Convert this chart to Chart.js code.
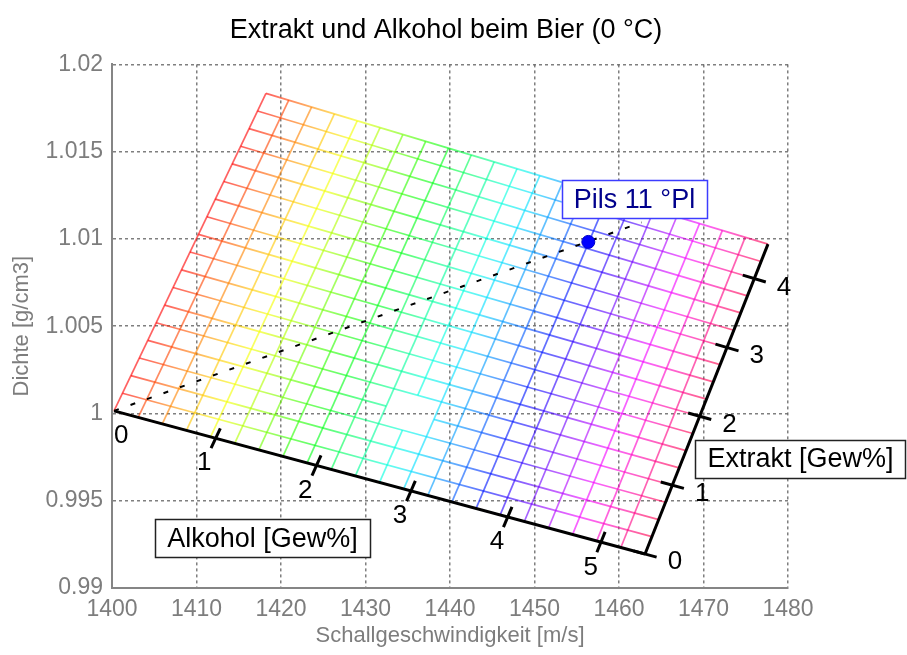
<!DOCTYPE html>
<html>
<head>
<meta charset="utf-8">
<script src="https://cdn.jsdelivr.net/npm/chart.js@4.4.0/dist/chart.umd.min.js"></script>
<style>
  html, body { margin: 0; padding: 0; background: #fff; }
  canvas { display: block; }
</style>
</head>
<body>
<canvas id="chart" width="907" height="655"></canvas>
<script>
// Grid levels of the nomogram (Gew%)
const alcoholLevels = [0, 0.25, 0.5, 0.75, 1, 1.25, 1.5, 1.75, 2, 2.25, 2.5, 2.75, 3, 3.25, 3.5, 3.75, 4, 4.25, 4.5, 4.75, 5, 5.25, 5.5];
const extractLevels = [0, 0.25, 0.5, 0.75, 1, 1.25, 1.5, 1.75, 2, 2.25, 2.5, 2.75, 3, 3.25, 3.5, 3.75, 4, 4.25, 4.5];

// Mesh edge at extract 0 (one node per alcohol level): sound speed [m/s], density [g/cm3]
const bottomSpeed = [1400.24, 1403.10, 1405.95, 1408.81, 1411.67, 1414.52, 1417.38, 1420.23, 1423.09, 1425.95, 1428.80, 1431.66, 1434.52, 1437.37, 1440.23, 1443.09, 1445.94, 1448.80, 1451.66, 1454.51, 1457.37, 1460.22, 1463.08];
const bottomDensity = [1.00015, 0.99978, 0.99940, 0.99903, 0.99866, 0.99829, 0.99791, 0.99754, 0.99717, 0.99680, 0.99642, 0.99605, 0.99568, 0.99530, 0.99493, 0.99456, 0.99419, 0.99381, 0.99344, 0.99307, 0.99270, 0.99232, 0.99195];
// Mesh edge at extract 4.5
const topSpeed = [1418.22, 1420.92, 1423.62, 1426.32, 1429.02, 1431.72, 1434.42, 1437.12, 1439.82, 1442.52, 1445.23, 1447.93, 1450.63, 1453.33, 1456.03, 1458.73, 1461.43, 1464.13, 1466.83, 1469.53, 1472.23, 1474.93, 1477.63];
const topDensity = [1.01834, 1.01795, 1.01755, 1.01716, 1.01677, 1.01638, 1.01598, 1.01559, 1.01520, 1.01481, 1.01441, 1.01402, 1.01363, 1.01323, 1.01284, 1.01245, 1.01206, 1.01166, 1.01127, 1.01088, 1.01049, 1.01009, 1.00970];
// Mesh edge at alcohol 0 (one node per extract level)
const leftSpeed = [1400.24, 1401.24, 1402.24, 1403.24, 1404.24, 1405.23, 1406.23, 1407.23, 1408.23, 1409.23, 1410.23, 1411.23, 1412.23, 1413.23, 1414.22, 1415.22, 1416.22, 1417.22, 1418.22];
const leftDensity = [1.00015, 1.00116, 1.00217, 1.00318, 1.00419, 1.00520, 1.00621, 1.00722, 1.00823, 1.00925, 1.01026, 1.01127, 1.01228, 1.01329, 1.01430, 1.01531, 1.01632, 1.01733, 1.01834];
// Mesh edge at alcohol 5.5
const rightSpeed = [1463.08, 1463.89, 1464.70, 1465.50, 1466.31, 1467.12, 1467.93, 1468.74, 1469.55, 1470.36, 1471.16, 1471.97, 1472.78, 1473.59, 1474.40, 1475.20, 1476.01, 1476.82, 1477.63];
const rightDensity = [0.99195, 0.99294, 0.99392, 0.99491, 0.99589, 0.99688, 0.99787, 0.99885, 0.99984, 1.00082, 1.00181, 1.00280, 1.00378, 1.00477, 1.00576, 1.00674, 1.00773, 1.00871, 1.00970];
// Grid nodes without a value: [alcohol index, extract index]
const missingNodes = [[11, 4]];

// Alcohol scale (along extract 0): labelled values and where they sit
const alcoholTicks = [0, 1, 2, 3, 4, 5];
const alcoholTickSpeed = [1400.24, 1412.27, 1424.20, 1435.38, 1446.83, 1457.87];
const alcoholTickDensity = [1.00015, 0.99858, 0.99702, 0.99556, 0.99407, 0.99263];
// Extract scale (along alcohol 5.5): labelled values, on mesh rows
const extractTicks = [0, 1, 2, 3, 4];

// Dilution line through the beer sample, and the sample itself
const dilutionSpeed = [1400.24, 1462.69];
const dilutionDensity = [1.00015, 1.01095];
const pilsSpeed = [1456.37];
const pilsDensity = [1.00983];

// Cartesian axes
const speedTicks = [1400, 1410, 1420, 1430, 1440, 1450, 1460, 1470, 1480];
const speedTickLabels = ['1400', '1410', '1420', '1430', '1440', '1450', '1460', '1470', '1480'];
const densityTicks = [0.99, 0.995, 1, 1.005, 1.01, 1.015, 1.02];
const densityTickLabels = ['0.99', '0.995', '1', '1.005', '1.01', '1.015', '1.02'];

const SANS = '"Liberation Sans", Arial, Helvetica, sans-serif';
const GREY = '#7d7d7d';

// hsv-like colour for a column of the mesh
function hueColor(i) {
  const h = 360 * i / alcoholLevels.length;
  return `hsla(${h.toFixed(1)}, 100%, 50%, 0.62)`;
}

const pt = (x, y) => ({ x, y });
const bottomNode = i => pt(bottomSpeed[i], bottomDensity[i]);
const topNode = i => pt(topSpeed[i], topDensity[i]);
const leftNode = j => pt(leftSpeed[j], leftDensity[j]);
const rightNode = j => pt(rightSpeed[j], rightDensity[j]);

// crossing of column i and row j of the mesh (both are straight lines)
function meshNode(i, j) {
  const lastRow = extractLevels.length - 1, lastCol = alcoholLevels.length - 1;
  if (j === 0) return bottomNode(i);
  if (j === lastRow) return topNode(i);
  if (i === 0) return leftNode(j);
  if (i === lastCol) return rightNode(j);
  const p = bottomNode(i), r = topNode(i), q = leftNode(j), s = rightNode(j);
  const k = 1000; // bring density to a comparable magnitude
  const rx = r.x - p.x, ry = (r.y - p.y) * k;
  const sx = s.x - q.x, sy = (s.y - q.y) * k;
  const qx = q.x - p.x, qy = (q.y - p.y) * k;
  const t = (qx * sy - qy * sx) / (rx * sy - ry * sx);
  return pt(p.x + t * (r.x - p.x), p.y + t * (r.y - p.y));
}

// split an index range 0..last into runs that avoid the missing nodes
function runs(last, gaps) {
  const out = [];
  let start = 0;
  gaps.slice().sort((a, b) => a - b).forEach(g => {
    if (g - 1 > start) out.push([start, g - 1]);
    start = g + 1;
  });
  if (last > start) out.push([start, last]);
  return out;
}

function rowGradient(chart, j) {
  const xs = chart.scales.x, ys = chart.scales.y;
  const a = leftNode(j), b = rightNode(j);
  const g = chart.ctx.createLinearGradient(
    xs.getPixelForValue(a.x), ys.getPixelForValue(a.y),
    xs.getPixelForValue(b.x), ys.getPixelForValue(b.y));
  const n = alcoholLevels.length;
  for (let i = 0; i < n; i++) g.addColorStop(i / (n - 1), hueColor(i));
  return g;
}

const meshLine = { showLine: true, pointRadius: 0, borderWidth: 1.7, fill: false, order: 3 };
const datasets = [];

// sample point
datasets.push({
  label: 'Pils 11 °Pl',
  data: pilsSpeed.map((s, k) => pt(s, pilsDensity[k])),
  showLine: false, pointRadius: 6.5, pointBackgroundColor: '#0000ff',
  pointBorderColor: '#0000c8', pointBorderWidth: 1, order: 0
});
// dilution line
datasets.push({
  label: 'Verdünnung',
  data: dilutionSpeed.map((s, k) => pt(s, dilutionDensity[k])),
  showLine: true, pointRadius: 0, borderColor: '#000', borderWidth: 2,
  borderDash: [5, 12.5], order: 1
});
// the two skew axes
const lastCol = alcoholLevels.length - 1, lastRow = extractLevels.length - 1;
datasets.push({
  label: 'Alkohol', data: [bottomNode(0), bottomNode(lastCol)],
  showLine: true, pointRadius: 0, borderColor: '#000', borderWidth: 3, order: 2
});
datasets.push({
  label: 'Extrakt', data: [rightNode(0), rightNode(lastRow)],
  showLine: true, pointRadius: 0, borderColor: '#000', borderWidth: 3, order: 2
});

// rows: constant extract, coloured along the alcohol direction
extractLevels.forEach((e, j) => {
  const gaps = missingNodes.filter(m => m[1] === j).map(m => m[0]);
  runs(lastCol, gaps).forEach(([i0, i1]) => {
    datasets.push(Object.assign({}, meshLine, {
      label: 'Extrakt ' + e,
      data: [meshNode(i0, j), meshNode(i1, j)],
      borderColor: ctx => ctx.chart.chartArea ? rowGradient(ctx.chart, j) : 'rgba(0,0,0,0)'
    }));
  });
});
// columns: constant alcohol
alcoholLevels.forEach((a, i) => {
  const gaps = missingNodes.filter(m => m[0] === i).map(m => m[1]);
  runs(lastRow, gaps).forEach(([j0, j1]) => {
    datasets.push(Object.assign({}, meshLine, {
      label: 'Alkohol ' + a,
      data: [meshNode(i, j0), meshNode(i, j1)],
      borderColor: hueColor(i)
    }));
  });
});

// text boxes placed in data coordinates
const boxes = [
  { text: 'Pils 11 °Pl', x: 1461.83, y: 1.01227, color: '#00008c', border: '#3c3cff' },
  { text: 'Alkohol [Gew%]', x: 1417.81, y: 0.99286, color: '#000', border: '#222' },
  { text: 'Extrakt [Gew%]', x: 1481.48, y: 0.99741, color: '#000', border: '#222' }
];

function seg(ctx, a, b) {
  ctx.beginPath(); ctx.moveTo(a.x, a.y); ctx.lineTo(b.x, b.y); ctx.stroke();
}

// ticks and numbers of the skew scales, plus the framed captions
const nomogramLabels = {
  id: 'nomogramLabels',
  afterDatasetsDraw(chart) {
    const { ctx, scales: { x: xs, y: ys } } = chart;
    const toPx = p => pt(xs.getPixelForValue(p.x), ys.getPixelForValue(p.y));
    const dir = (a, b) => { const dx = b.x - a.x, dy = b.y - a.y, l = Math.hypot(dx, dy); return pt(dx / l, dy / l); };
    ctx.save();
    ctx.strokeStyle = '#000';
    ctx.fillStyle = '#000';
    ctx.lineWidth = 3;
    ctx.font = '26px ' + SANS;
    ctx.textAlign = 'center';
    ctx.textBaseline = 'middle';

    alcoholTicks.forEach((t, k) => {
      const p = toPx(pt(alcoholTickSpeed[k], alcoholTickDensity[k]));
      // tick direction follows the nearest mesh column
      let i = 0;
      bottomSpeed.forEach((s, n) => { if (Math.abs(s - alcoholTickSpeed[k]) < Math.abs(bottomSpeed[i] - alcoholTickSpeed[k])) i = n; });
      const u = dir(toPx(bottomNode(i)), toPx(topNode(i)));
      if (t > 0) seg(ctx, pt(p.x - u.x * 11, p.y - u.y * 11), pt(p.x + u.x * 11, p.y + u.y * 11));
      // the zero sits a little further in to stay clear of the y axis
      const shift = t === 0 ? 19 : 0;
      ctx.fillText(String(t), p.x - u.x * 27.5 + shift, p.y - u.y * 27.5);
    });

    extractTicks.forEach(t => {
      const j = extractLevels.indexOf(t);
      const p = toPx(rightNode(j));
      const u = dir(toPx(leftNode(j)), p);
      seg(ctx, pt(p.x - u.x * 12, p.y - u.y * 12), pt(p.x + u.x * 12, p.y + u.y * 12));
      ctx.fillText(String(t), p.x + u.x * 31, p.y + u.y * 31);
    });

    ctx.font = '27px ' + SANS;
    boxes.forEach(b => {
      const c = toPx(b);
      const w = ctx.measureText(b.text).width + 24, h = 38;
      ctx.fillStyle = '#fff';
      ctx.fillRect(c.x - w / 2, c.y - h / 2, w, h);
      ctx.lineWidth = 1.5;
      ctx.strokeStyle = b.border;
      ctx.strokeRect(Math.round(c.x - w / 2) + 0.5, Math.round(c.y - h / 2) + 0.5, Math.round(w), h);
      ctx.fillStyle = b.color;
      ctx.fillText(b.text, c.x, c.y + 1);
    });
    ctx.restore();
  }
};

new Chart(document.getElementById('chart'), {
  type: 'scatter',
  data: { datasets },
  plugins: [nomogramLabels],
  options: {
    responsive: false,
    animation: false,
    devicePixelRatio: 1,
    layout: { padding: { left: 0, right: 15, top: 0, bottom: 0 } },
    plugins: {
      legend: { display: false },
      tooltip: { enabled: false },
      title: {
        display: true,
        text: 'Extrakt und Alkohol beim Bier (0 °C)',
        color: '#000',
        font: { family: SANS, size: 27, weight: 'normal' },
        padding: { top: 14, bottom: 18 }
      }
    },
    scales: {
      x: {
        type: 'linear', min: 1400, max: 1480,
        afterBuildTicks: s => { s.ticks = speedTicks.map(v => ({ value: v })); },
        afterFit: s => { s.height = 67; },
        ticks: {
          autoSkip: false, maxRotation: 0, padding: 8, color: GREY,
          font: { family: SANS, size: 23 },
          callback: (v, k) => speedTickLabels[k]
        },
        grid: { color: 'rgba(105,105,105,0.85)', lineWidth: 1.5, drawTicks: false },
        border: { display: true, color: '#858585', width: 2, dash: [3, 3] },
        title: {
          display: true, text: 'Schallgeschwindigkeit [m/s]', color: GREY,
          font: { family: SANS, size: 22 }, padding: { top: 0, bottom: 6 }
        }
      },
      y: {
        type: 'linear', min: 0.99, max: 1.02,
        afterBuildTicks: s => { s.ticks = densityTicks.map(v => ({ value: v })); },
        afterFit: s => { s.width = 112; },
        ticks: {
          autoSkip: false, padding: 9, color: GREY,
          font: { family: SANS, size: 23 },
          callback: (v, k) => densityTickLabels[k]
        },
        grid: { color: 'rgba(105,105,105,0.85)', lineWidth: 1.5, drawTicks: false },
        border: { display: true, color: '#858585', width: 2, dash: [3, 3] },
        title: {
          display: true, text: 'Dichte [g/cm3]', color: GREY,
          font: { family: SANS, size: 22 }, padding: { top: 9, bottom: 0 }
        }
      },
      // empty margin on the right, keeps the plot box where it belongs
      margin: {
        type: 'linear', position: 'right', display: true,
        afterFit: s => { s.width = 104; },
        grid: { display: false, drawTicks: false },
        border: { display: false },
        ticks: { display: false }
      }
    }
  }
});
</script>
</body>
</html>
